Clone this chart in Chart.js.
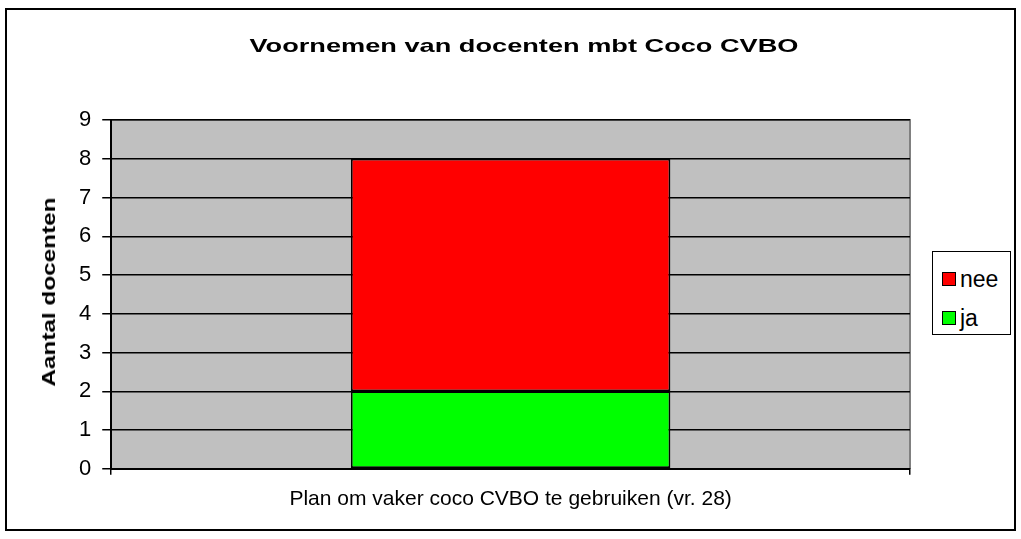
<!DOCTYPE html>
<html>
<head>
<meta charset="utf-8">
<script src="https://cdn.jsdelivr.net/npm/chart.js@4"></script>
<style>
  body { margin: 0; background: #fff; font-family: "Liberation Sans", Arial, sans-serif; }
  #frame { position: absolute; left: 5px; top: 8px; width: 1007px; height: 519px; border: 2px solid #000; }
  #wrap { position: absolute; left: 0; top: 0; width: 1021px; height: 539px; }
  #title { position: absolute; left: 524px; top: 35px; font-size: 19px; font-weight: bold; white-space: nowrap;
           transform: translateX(-50%) scaleX(1.43); }
  #ytitle { position: absolute; left: 49px; top: 292px; font-size: 19px; font-weight: bold; white-space: nowrap;
            transform: translate(-50%, -50%) rotate(-90deg) scaleX(1.28); }
  #legend { position: absolute; left: 932px; top: 251px; width: 77px; height: 82px; border: 1.5px solid #000; background: #fff; }
  .item { position: absolute; left: 9px; font-size: 23px; line-height: 24px; }
  .sw { display: inline-block; width: 12px; height: 12px; border: 1px solid #000; margin-right: 4px; vertical-align: 1px; }
</style>
</head>
<body>
<div id="frame"></div>
<div id="wrap"><canvas id="chart" width="1021" height="539"></canvas></div>
<div id="title"></div>
<div id="ytitle"></div>
<div id="legend"></div>
<script>
// chart data
const chartTitle = 'Voornemen van docenten mbt Coco CVBO';
const yAxisTitle = 'Aantal docenten';
const categories = ['Plan om vaker coco CVBO te gebruiken (vr. 28)'];
const seriesNames = ['ja', 'nee'];
const jaValues = [2];
const neeValues = [6];
const seriesColors = ['#00FF00', '#FF0000'];
const yTicks = [0, 1, 2, 3, 4, 5, 6, 7, 8, 9];

// grey plot area with the thin grey frame
const plotBackground = {
    id: 'plotBackground',
    beforeDraw(chart) {
        const a = chart.chartArea;
        const ctx = chart.ctx;
        ctx.save();
        ctx.fillStyle = '#C0C0C0';
        ctx.fillRect(a.left, a.top, a.right - a.left, a.bottom - a.top);
        ctx.strokeStyle = '#808080';
        ctx.lineWidth = 2;
        ctx.beginPath();
        ctx.moveTo(a.left, a.top);
        ctx.lineTo(a.right, a.top);
        ctx.lineTo(a.right, a.bottom);
        ctx.stroke();
        ctx.restore();
    }
};

const ctx = document.getElementById('chart').getContext('2d');
const chart = new Chart(ctx, {
    type: 'bar',
    data: {
        labels: categories,
        datasets: [
            { label: seriesNames[0], data: jaValues, backgroundColor: seriesColors[0], borderColor: '#000', borderWidth: 1.8, borderSkipped: false },
            { label: seriesNames[1], data: neeValues, backgroundColor: seriesColors[1], borderColor: '#000', borderWidth: 1.8, borderSkipped: false }
        ]
    },
    options: {
        responsive: false,
        animation: false,
        layout: { padding: { left: 68, right: 111, top: 120, bottom: 15 } },
        datasets: { bar: { barPercentage: 0.4, categoryPercentage: 1 } },
        plugins: {
            legend: { display: false },
            tooltip: { enabled: false },
            title: { display: false }
        },
        scales: {
            x: {
                stacked: true,
                offset: true,
                grid: { display: true, drawOnChartArea: false, drawTicks: true, tickLength: 6, color: '#000', lineWidth: 1.5, offset: true },
                border: { color: '#000', width: 2 },
                ticks: { color: '#000', font: { family: 'Liberation Sans', size: 21 }, padding: 12 }
            },
            y: {
                stacked: true,
                min: yTicks[0],
                max: yTicks[yTicks.length - 1],
                afterBuildTicks(scale) { scale.ticks = yTicks.map(v => ({ value: v })); },
                grid: { color: '#000', lineWidth: 1.5, tickLength: 9 },
                border: { color: '#000', width: 2 },
                ticks: { color: '#000', font: { family: 'Liberation Sans', size: 22 }, padding: 11 }
            }
        }
    },
    plugins: [plotBackground]
});

document.getElementById('title').textContent = chartTitle;
document.getElementById('ytitle').textContent = yAxisTitle;

// legend box on the right, order as in the original (nee above ja)
const legend = document.getElementById('legend');
[1, 0].forEach((i, row) => {
    const item = document.createElement('div');
    item.className = 'item';
    item.style.top = (row === 0 ? 15 : 54) + 'px';
    item.innerHTML = '<span class="sw" style="background:' + seriesColors[i] + '"></span>' + seriesNames[i];
    legend.appendChild(item);
});
</script>
</body>
</html>
